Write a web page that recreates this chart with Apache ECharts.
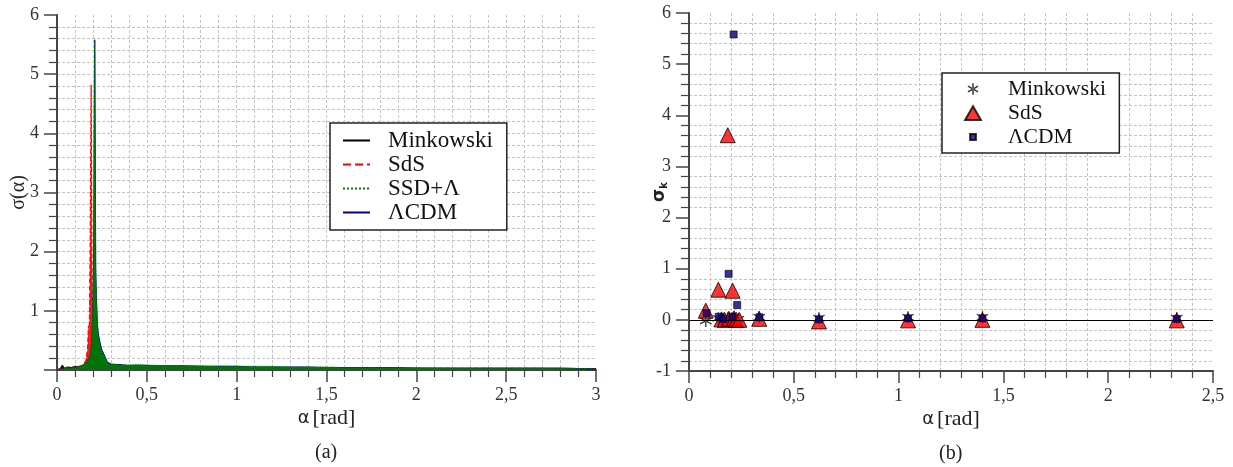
<!DOCTYPE html>
<html>
<head>
<meta charset="utf-8">
<script src="https://cdn.jsdelivr.net/npm/echarts@6/dist/echarts.min.js"></script>
<style>
html, body { margin: 0; padding: 0; background: #fff; }
#chart { width: 1233px; height: 467px; }
</style>
</head>
<body>
<div id="chart"></div>
<script>
// ---- (a) sigma(alpha) ----
var alphaA = [0.00, 0.02, 0.03, 0.04, 0.06, 0.08, 0.10, 0.12, 0.14, 0.15, 0.16, 0.17, 0.175, 0.18, 0.185,
    0.19, 0.195, 0.20, 0.205, 0.21, 0.215, 0.22, 0.225, 0.23, 0.24, 0.25, 0.26, 0.27, 0.28, 0.30,
    0.32, 0.35, 0.38, 0.40, 0.45, 0.50, 0.55, 0.60, 0.70, 0.80, 0.90, 1.00, 1.10, 1.20, 1.30,
    1.40, 1.50, 1.60, 1.70, 1.80, 1.90, 2.00, 2.20, 2.40, 2.60, 2.80, 3.00];
var minkowskiA = [0.00, 0.03, 0.08, 0.03, 0.05, 0.04, 0.06, 0.05, 0.07, 0.05, 0.06, 0.05, 0.06, 0.05, 0.06,
    0.05, 0.06, 0.05, 0.06, 0.05, 0.06, 0.05, 0.06, 0.05, 0.06, 0.05, 0.06, 0.05, 0.06, 0.05,
    0.06, 0.05, 0.06, 0.05, 0.05, 0.05, 0.05, 0.05, 0.05, 0.04, 0.04, 0.04, 0.04, 0.04, 0.04,
    0.04, 0.03, 0.03, 0.03, 0.03, 0.03, 0.03, 0.03, 0.03, 0.03, 0.03, 0.02];
var sdsA = [0.00, 0.02, 0.03, 0.03, 0.04, 0.04, 0.05, 0.06, 0.08, 0.10, 0.15, 0.35, 0.75, 0.70, 2.30,
    4.82, 1.40, 0.90, 0.60, 0.45, 0.40, 0.30, 0.28, 0.22, 0.18, 0.15, 0.13, 0.11, 0.10, 0.09,
    0.08, 0.08, 0.07, 0.07, 0.07, 0.06, 0.06, 0.06, 0.05, 0.05, 0.05, 0.05, 0.04, 0.04, 0.04,
    0.04, 0.04, 0.04, 0.03, 0.03, 0.03, 0.03, 0.03, 0.03, 0.03, 0.02, 0.02];
var ssdA = [0.00, 0.01, 0.02, 0.02, 0.03, 0.03, 0.04, 0.05, 0.07, 0.10, 0.12, 0.15, 0.18, 0.20, 0.25,
    0.35, 0.60, 1.10, 2.40, 5.60, 1.80, 1.20, 0.80, 0.55, 0.42, 0.30, 0.25, 0.18, 0.12, 0.09,
    0.10, 0.08, 0.09, 0.08, 0.09, 0.08, 0.08, 0.07, 0.07, 0.07, 0.06, 0.06, 0.06, 0.06, 0.05,
    0.05, 0.05, 0.04, 0.04, 0.04, 0.04, 0.04, 0.03, 0.03, 0.03, 0.03, 0.02];
var lcdmA = [0.00, 0.01, 0.02, 0.02, 0.03, 0.03, 0.04, 0.05, 0.06, 0.09, 0.11, 0.14, 0.17, 0.19, 0.24,
    0.33, 0.55, 1.00, 2.20, 5.58, 1.70, 1.10, 0.75, 0.60, 0.45, 0.33, 0.27, 0.20, 0.13, 0.10,
    0.09, 0.09, 0.08, 0.08, 0.08, 0.08, 0.07, 0.07, 0.07, 0.06, 0.06, 0.06, 0.05, 0.05, 0.05,
    0.05, 0.04, 0.04, 0.04, 0.04, 0.04, 0.03, 0.03, 0.03, 0.03, 0.03, 0.02];

// ---- (b) sigma_k points ----
var alphaMink = [0.08, 0.14, 0.165, 0.185, 0.205, 0.215, 0.235, 0.335, 0.62, 1.045, 1.40, 2.327];
var sigmaMink = [-0.02, 0.03, 0.02, 0.03, 0.03, 0.03, 0.01, 0.05, 0.03, 0.05, 0.05, 0.03];
var alphaSdS = [0.08, 0.14, 0.155, 0.17, 0.185, 0.19, 0.208, 0.215, 0.225, 0.24, 0.335, 0.62, 1.045, 1.40, 2.327];
var sigmaSdS = [0.18, 0.59, 0.01, 0.00, 3.61, 0.02, 0.57, 0.03, 0.00, 0.00, 0.02, -0.03, -0.01, 0.00, -0.01];
var alphaLCDM = [0.084, 0.142, 0.164, 0.189, 0.207, 0.213, 0.23, 0.336, 0.62, 1.045, 1.40, 2.327];
var sigmaLCDM = [0.13, 0.06, 0.02, 0.90, 0.06, 5.58, 0.29, 0.05, 0.01, 0.03, 0.03, 0.02];

var serif = 'Liberation Serif';
var ink = '#444';
var gridCol = '#c4c4c4';

function zip(xs, ys) {
    return xs.map(function (x, i) { return [x, ys[i]]; });
}
function comma(v) {
    return String(v).replace('.', ',');
}

// asterisk made of three bars; legend versions carry padding (M0 0 M24 24) to keep them small
var asterisk = 'path://M9 0L11 0L11 20L9 20Z M0.84 5.87L18.16 15.87L19.16 14.13L1.84 4.13Z M1.84 15.87L19.16 5.87L18.16 4.13L0.84 14.13Z';
var asteriskIcon = 'path://M0 0M24 24M11.1 5L12.9 5L12.9 19L11.1 19Z M5.49 9.28L17.61 16.28L18.51 14.72L6.39 7.72Z M6.39 16.28L18.51 9.28L17.61 7.72L5.49 14.72Z';
var triangleIcon = 'path://M0 0M24 24M12 4L21.5 20.5L2.5 20.5Z';
var squareIcon = 'path://M0 0M24 24M8.5 8.5L15.5 8.5L15.5 15.5L8.5 15.5Z';

var axisX = function (grid, max, majorLines) {
    return {
        gridIndex: grid,
        type: 'value',
        min: 0,
        max: max,
        interval: 0.5,
        name: '{g|α} {t|[rad]}',
        nameLocation: 'middle',
        nameGap: 37,
        nameMoveOverlap: false,
        nameTextStyle: {
            rich: {
                g: { fontFamily: 'DejaVu Sans', fontSize: 18, color: '#222' },
                t: { fontFamily: serif, fontSize: 22, color: '#222' }
            }
        },
        axisLine: { show: true, onZero: false, lineStyle: { color: ink, width: 2 } },
        axisTick: { show: true, length: 12, lineStyle: { color: ink, width: 1.5 } },
        minorTick: { show: true, splitNumber: 5, length: 7, lineStyle: { color: ink, width: 1.2 } },
        splitLine: { show: majorLines, showMinLine: false, showMaxLine: false, lineStyle: { color: gridCol, type: [3, 2] } },
        minorSplitLine: { show: true, lineStyle: { color: gridCol, type: [3, 2] } },
        axisLabel: { fontFamily: serif, fontSize: 18, color: '#333', margin: 16, formatter: comma }
    };
};

var axisY = function (grid, min, hideZero, majorLines, name) {
    return {
        gridIndex: grid,
        type: 'value',
        min: min,
        max: 6,
        interval: 1,
        name: name,
        nameLocation: 'middle',
        nameRotate: 90,
        nameMoveOverlap: false,
        axisLine: { show: true, onZero: false, lineStyle: { color: ink, width: 2 } },
        axisTick: { show: true, length: 13, lineStyle: { color: ink, width: 1.5 } },
        minorTick: { show: true, splitNumber: 5, length: 8, lineStyle: { color: ink, width: 1.2 } },
        splitLine: { show: majorLines, showMinLine: false, showMaxLine: false, lineStyle: { color: gridCol, type: [3, 2] } },
        minorSplitLine: { show: true, lineStyle: { color: gridCol, type: [3, 2] } },
        axisLabel: {
            fontFamily: serif, fontSize: 18, color: '#333', margin: 18,
            formatter: function (v) { return (hideZero && v === 0) ? '' : comma(v); }
        }
    };
};

var yLeft = axisY(0, 0, true, true, 'σ(α)');
yLeft.nameGap = 28;
yLeft.nameTextStyle = { fontFamily: serif, fontSize: 20, color: '#222' };

var yRight = axisY(1, -1, false, false, '{s|σ}{k|k}');
yRight.nameGap = 20;
yRight.nameTextStyle = {
    rich: {
        s: { fontFamily: 'DejaVu Sans', fontWeight: 'bold', fontSize: 17, color: '#222' },
        k: { fontFamily: 'DejaVu Sans', fontWeight: 'bold', fontSize: 10, color: '#222', verticalAlign: 'bottom', padding: [8, 0, 0, 0] }
    }
};

var lineSeries = function (name, data, color, type, z) {
    return {
        name: name,
        type: 'line',
        xAxisIndex: 0,
        yAxisIndex: 0,
        data: zip(alphaA, data),
        symbol: 'none',
        z: z,
        lineStyle: { color: color, width: 1.2, type: type },
        itemStyle: { color: color },
        areaStyle: { color: color, opacity: 0.9 }
    };
};

var chart = echarts.init(document.getElementById('chart'));
chart.setOption({
    backgroundColor: '#fff',
    animation: false,
    textStyle: { fontFamily: serif },
    grid: [
        { left: 57, right: 637, top: 15, bottom: 97 },
        { left: 689, right: 20, top: 13, bottom: 96 }
    ],
    xAxis: [axisX(0, 3, true), axisX(1, 2.5, false)],
    yAxis: [yLeft, yRight],
    legend: [
        {
            data: ['Minkowski', 'SdS', 'SSD+Λ', 'ΛCDM'],
            left: 330,
            top: 123,
            orient: 'vertical',
            selectedMode: false,
            itemWidth: 27,
            itemHeight: 14,
            itemGap: 1,
            padding: [6, 14, 6, 12],
            backgroundColor: '#fff',
            borderColor: '#222',
            borderWidth: 1.5,
            borderRadius: 0,
            itemStyle: { opacity: 0 },
            textStyle: { fontFamily: serif, fontSize: 23, color: '#111', padding: [0, 0, 0, 13] }
        },
        {
            data: [
                { name: 'Minkowski ', icon: asteriskIcon },
                { name: 'SdS ', icon: triangleIcon },
                { name: 'ΛCDM ', icon: squareIcon }
            ],
            left: 942,
            top: 73,
            orient: 'vertical',
            selectedMode: false,
            itemWidth: 20,
            itemHeight: 20,
            itemGap: 2,
            padding: [5, 8, 5, 20],
            backgroundColor: '#fff',
            borderColor: '#222',
            borderWidth: 1.5,
            borderRadius: 0,
            textStyle: { fontFamily: serif, fontSize: 21.5, color: '#111', padding: [0, 0, 0, 20] }
        }
    ],
    graphic: [
        { type: 'text', left: 315, top: 443, style: { text: '(a)', font: '20px "Liberation Serif"', fill: '#222' } },
        { type: 'text', left: 939, top: 444, style: { text: '(b)', font: '20px "Liberation Serif"', fill: '#222' } }
    ],
    series: [
        lineSeries('Minkowski', minkowskiA, '#000000', 'solid', 2),
        lineSeries('SdS', sdsA, '#ff0000', 'dashed', 3),
        lineSeries('SSD+Λ', ssdA, '#008000', 'dotted', 5),
        lineSeries('ΛCDM', lcdmA, '#000080', 'solid', 4),
        {
            name: 'Minkowski ',
            type: 'scatter',
            xAxisIndex: 1,
            yAxisIndex: 1,
            data: zip(alphaMink, sigmaMink),
            symbol: asterisk,
            symbolSize: 12,
            z: 3,
            itemStyle: { color: '#000' },
            markLine: {
                silent: true,
                symbol: 'none',
                label: { show: false },
                lineStyle: { color: '#000', width: 1.2, type: 'solid' },
                data: [{ yAxis: 0 }]
            }
        },
        {
            name: 'SdS ',
            type: 'scatter',
            xAxisIndex: 1,
            yAxisIndex: 1,
            data: zip(alphaSdS, sigmaSdS),
            symbol: 'triangle',
            symbolSize: 15,
            z: 4,
            itemStyle: { color: '#ff0000', borderColor: '#000', borderWidth: 1 }
        },
        {
            name: 'ΛCDM ',
            type: 'scatter',
            xAxisIndex: 1,
            yAxisIndex: 1,
            data: zip(alphaLCDM, sigmaLCDM),
            symbol: 'rect',
            symbolSize: 7,
            z: 5,
            itemStyle: { color: '#000080', borderColor: '#000', borderWidth: 0.8 }
        }
    ]
});
</script>
</body>
</html>
